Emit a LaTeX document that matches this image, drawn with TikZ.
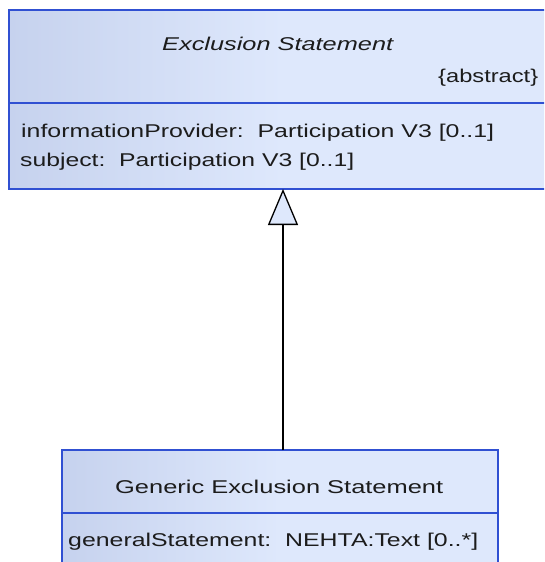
\documentclass[tikz,border=0pt]{standalone}
\usepackage{fontspec}
\setmainfont{Liberation Sans}
\usetikzlibrary{arrows.meta}
\definecolor{boxdark}{RGB}{198,210,238}
\definecolor{boxlight}{RGB}{222,232,252}
\definecolor{boxborder}{RGB}{48,80,210}
\definecolor{txt}{RGB}{28,28,28}
\newcommand{\fitto}[2]{\resizebox{#1}{\height}{#2}}
\tikzset{
  classbox/.style={draw=boxborder, line width=1.7pt, left color=boxdark, right color=boxlight, middle color=boxlight, inner sep=0pt, outer sep=0pt},
  divider/.style={draw=boxborder, line width=1.7pt},
  lbl/.style={anchor=base west, inner sep=0pt, text=txt, font=\fontsize{18.5}{21}\selectfont},
  gen/.style={draw=black, line width=1.5pt, -{Triangle[length=36pt, width=30pt, fill=boxlight, line width=1.3pt]}}
}
\begin{document}
\begin{tikzpicture}[x=1pt, y=-1pt]
\useasboundingbox (0,0) rectangle (544,562);
\clip (0,0) rectangle (544,562);
\fill[white] (0,0) rectangle (544,562);
% Exclusion Statement class
\node[classbox, minimum width=548pt, minimum height=179pt] (excl) at (283,99.5) {};
\draw[divider] (excl.west |- 0,103) -- (excl.east |- 0,103);
\node[lbl, font=\fontsize{18.5}{21}\selectfont\itshape] (exT) at (162,50) {\fitto{231pt}{Exclusion Statement}};
\node[lbl] (exA) at (438,82) {\fitto{100pt}{\{abstract\}}};
\node[lbl] (exP1) at (21,137) {\fitto{473pt}{informationProvider:\ \ Participation V3 [0..1]}};
\node[lbl] (exP2) at (20,166) {\fitto{334pt}{subject:\ \ Participation V3 [0..1]}};
% Generic Exclusion Statement class
\node[classbox, minimum width=436pt, minimum height=124pt] (gen) at (280,512) {};
\draw[divider] (gen.west |- 0,513) -- (gen.east |- 0,513);
\node[lbl] (genT) at (115,493) {\fitto{328pt}{Generic Exclusion Statement}};
\node[lbl] (genP1) at (68,546) {\fitto{410pt}{generalStatement:\ \ NEHTA:Text [0..*]}};
% generalization
\draw[gen] (excl.south |- gen.north) -- (excl.south);
\end{tikzpicture}
\end{document}
